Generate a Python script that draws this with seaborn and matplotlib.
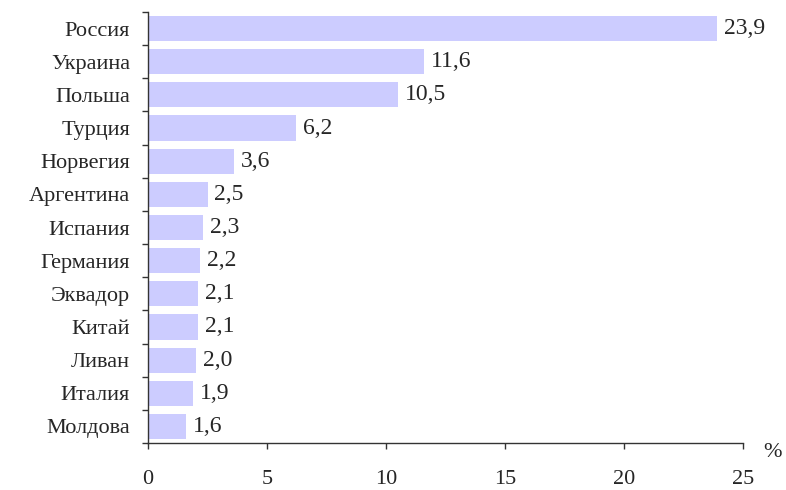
import numpy as np
import pandas as pd
import matplotlib
matplotlib.use('Agg')
import matplotlib.pyplot as plt
import seaborn as sns

#------------------------------------------------
countries=['Россия', 'Украина', 'Польша', 'Турция', 'Норвегия', 'Аргентина', 'Испания',
           'Германия', 'Эквадор', 'Китай', 'Ливан', 'Италия', 'Молдова']
shares=[23.9, 11.6, 10.5, 6.2, 3.6, 2.5, 2.3, 2.2, 2.1, 2.1, 2.0, 1.9, 1.6]
xticks=[0, 5, 10, 15, 20, 25]

df=pd.DataFrame({'country': countries, 'share': shares})

#########################################################
sns.set_style('white')
plt.rcParams['font.family']=['Liberation Serif', 'DejaVu Serif']
fs=16

fig=plt.figure(figsize=(7.86, 4.9), dpi=100)
ax=fig.add_axes([148/786, 47/490, 595/786, 431/490])

sns.barplot(data=df, x='share', y='country', orient='h', color='#CCCCFF',
            saturation=1, width=0.76, edgecolor='none', ax=ax)

#labels on bars
lbl=[f'{v:.1f}'.replace('.', ',') for v in shares]
ax.bar_label(ax.containers[0], labels=lbl, padding=5, fontsize=17)

#axes
ax.set_xlim(0, 25)
ax.set_ylim(len(countries)-0.5, -0.5)
ax.set_xticks(xticks)
ax.set_xticklabels([str(t) for t in xticks], fontsize=fs)
ax.set_yticks(range(len(countries)))
ax.set_yticklabels(countries, fontsize=fs)
ax.set_yticks(np.arange(-0.5, len(countries), 1), minor=True)
ax.tick_params(axis='y', which='major', length=0, pad=13)
ax.tick_params(axis='y', which='minor', length=4.5, width=1, color='#333333', direction='out', left=True)
ax.tick_params(axis='x', which='major', length=4.5, width=1, color='#333333', direction='out', bottom=True, pad=15)
ax.set_xlabel('')
ax.set_ylabel('')

for s in ['top', 'right']:
    ax.spines[s].set_visible(False)
for s in ['left', 'bottom']:
    ax.spines[s].set_color('#333333')
    ax.spines[s].set_linewidth(1)

ax.text(1.05, -0.022, '%', transform=ax.transAxes, fontsize=fs, ha='center', va='center')

plt.savefig('out.png', dpi=100)
plt.close()
